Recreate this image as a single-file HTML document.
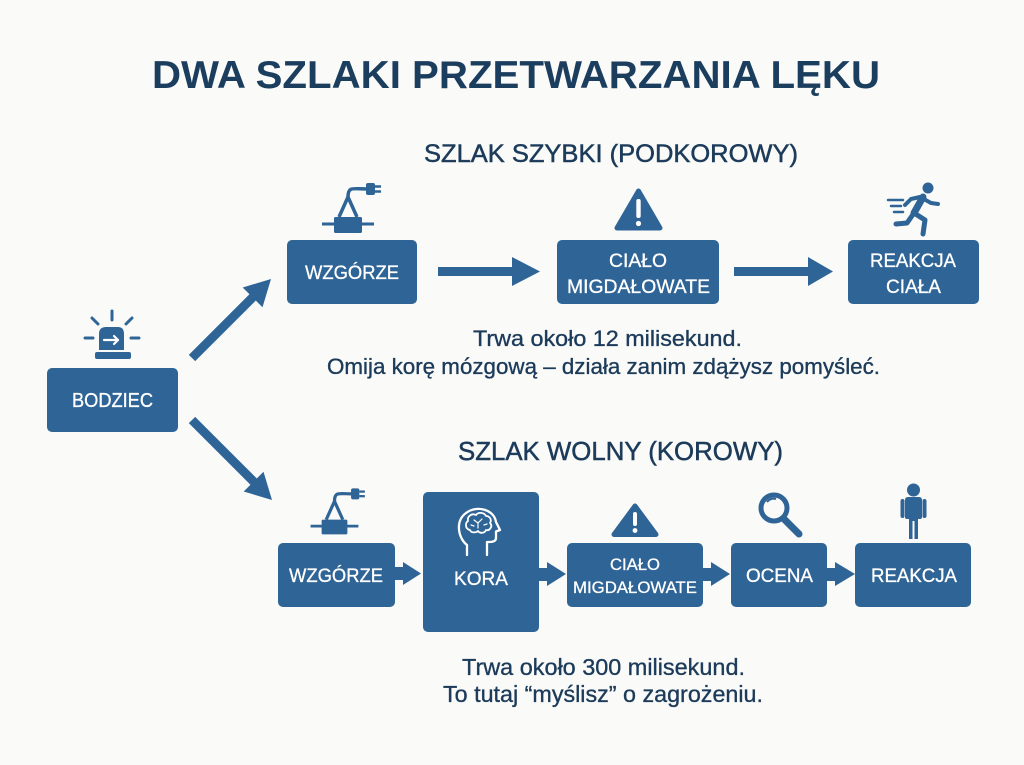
<!DOCTYPE html>
<html><head><meta charset="utf-8">
<style>
html,body{margin:0;padding:0;background:#fafaf8;}
svg{display:block;}
text{font-family:"Liberation Sans","DejaVu Sans",sans-serif;}
</style></head>
<body>
<svg width="1024" height="765" viewBox="0 0 1024 765" xmlns="http://www.w3.org/2000/svg">
<rect width="1024" height="765" fill="#fafaf8"/>

<!-- Titles -->
<text x="516" y="88" text-anchor="middle" font-size="39" font-weight="bold" fill="#1b3d5e" textLength="728" lengthAdjust="spacingAndGlyphs">DWA SZLAKI PRZETWARZANIA LĘKU</text>
<text x="611" y="162" text-anchor="middle" font-size="25" fill="#1c3b5a" stroke="#1c3b5a" stroke-width="0.5" textLength="374" lengthAdjust="spacingAndGlyphs">SZLAK SZYBKI (PODKOROWY)</text>
<text x="620.5" y="460" text-anchor="middle" font-size="26" fill="#1c3b5a" stroke="#1c3b5a" stroke-width="0.5" textLength="325" lengthAdjust="spacingAndGlyphs">SZLAK WOLNY (KOROWY)</text>

<!-- Body text -->
<g fill="#1c3b5a" stroke="#1c3b5a" stroke-width="0.35" font-size="22">
<text x="607.5" y="346" text-anchor="middle" textLength="269" lengthAdjust="spacingAndGlyphs">Trwa około 12 milisekund.</text>
<text x="603.5" y="374" text-anchor="middle" textLength="553" lengthAdjust="spacingAndGlyphs">Omija korę mózgową – działa zanim zdążysz pomyśleć.</text>
<text x="603.5" y="675" text-anchor="middle" font-size="23" textLength="283" lengthAdjust="spacingAndGlyphs">Trwa około 300 milisekund.</text>
<text x="603" y="702" text-anchor="middle" font-size="23" textLength="320" lengthAdjust="spacingAndGlyphs">To tutaj “myślisz” o zagrożeniu.</text>
</g>

<!-- Boxes -->
<g fill="#2f6496">
<rect x="47" y="368" width="131" height="64" rx="5"/>
<rect x="287" y="240" width="130" height="64" rx="5"/>
<rect x="557" y="240" width="162" height="64" rx="5"/>
<rect x="848" y="240" width="131" height="64" rx="5"/>
<rect x="278" y="543" width="117" height="64" rx="5"/>
<rect x="423" y="492" width="116" height="140" rx="5"/>
<rect x="567" y="543" width="136" height="64" rx="5"/>
<rect x="731" y="543" width="96" height="64" rx="5"/>
<rect x="855" y="543" width="116" height="64" rx="5"/>
</g>

<!-- Box labels -->
<g fill="#ffffff" stroke="#ffffff" stroke-width="0.3" font-size="19">
<text x="112.5" y="407" text-anchor="middle" font-size="20" textLength="81" lengthAdjust="spacingAndGlyphs">BODZIEC</text>
<text x="352" y="279" text-anchor="middle" textLength="94" lengthAdjust="spacingAndGlyphs">WZGÓRZE</text>
<text x="638" y="267" text-anchor="middle" textLength="58" lengthAdjust="spacingAndGlyphs">CIAŁO</text>
<text x="638.5" y="293" text-anchor="middle" textLength="143" lengthAdjust="spacingAndGlyphs">MIGDAŁOWATE</text>
<text x="913" y="267" text-anchor="middle" textLength="86" lengthAdjust="spacingAndGlyphs">REAKCJA</text>
<text x="913.5" y="293" text-anchor="middle" textLength="55" lengthAdjust="spacingAndGlyphs">CIAŁA</text>
<text x="336" y="582" text-anchor="middle" textLength="94" lengthAdjust="spacingAndGlyphs">WZGÓRZE</text>
<text x="481" y="585" text-anchor="middle" textLength="54" lengthAdjust="spacingAndGlyphs">KORA</text>
<text x="635" y="570" text-anchor="middle" font-size="17" textLength="50" lengthAdjust="spacingAndGlyphs">CIAŁO</text>
<text x="635" y="593" text-anchor="middle" font-size="17" textLength="124" lengthAdjust="spacingAndGlyphs">MIGDAŁOWATE</text>
<text x="779.5" y="582" text-anchor="middle" textLength="67" lengthAdjust="spacingAndGlyphs">OCENA</text>
<text x="914" y="582" text-anchor="middle" textLength="86" lengthAdjust="spacingAndGlyphs">REAKCJA</text>
</g>

<!-- Arrows -->
<g fill="#2f6496" stroke="none">
<rect x="438" y="267" width="76" height="9"/>
<polygon points="512,257 540,271.5 512,286"/>
<rect x="734" y="267" width="76" height="9"/>
<polygon points="808,257 833,271.5 808,286"/>
<rect x="395" y="567" width="10" height="13"/>
<polygon points="403,562 421,573.5 403,585"/>
<rect x="539" y="568" width="10" height="13"/>
<polygon points="547,562 566,574 547,586"/>
<rect x="703" y="568" width="10" height="13"/>
<polygon points="711,562 730,574 711,586"/>
<rect x="827" y="568" width="10" height="13"/>
<polygon points="835,562 855,574 835,586"/>
<polygon points="271,279 242.7,287.5 262.5,307.3"/>
<polygon points="272,500 263.5,471.7 243.7,491.5"/>
</g>
<g stroke="#2f6496" stroke-width="9" stroke-linecap="butt">
<line x1="192" y1="358" x2="256" y2="294"/>
<line x1="192" y1="420" x2="256" y2="484"/>
</g>

<!-- Siren icon -->
<g fill="#2f6496" stroke="#2f6496">
<line x1="112" y1="311" x2="112" y2="320" stroke-width="3" stroke-linecap="round"/>
<line x1="92" y1="318" x2="98" y2="324" stroke-width="3" stroke-linecap="round"/>
<line x1="132" y1="318" x2="126" y2="324" stroke-width="3" stroke-linecap="round"/>
<line x1="85" y1="338" x2="93" y2="338" stroke-width="3" stroke-linecap="round"/>
<line x1="131" y1="338" x2="139" y2="338" stroke-width="3" stroke-linecap="round"/>
<path d="M99,350 L99,334 Q99,327 106,327 L118,327 Q124,327 124,334 L124,350 Z" stroke="none"/>
<rect x="95" y="352" width="36" height="7" rx="2" stroke="none"/>
</g>
<g stroke="#ffffff" stroke-width="2.2" fill="none" stroke-linecap="round" stroke-linejoin="round">
<line x1="104" y1="340" x2="118" y2="340"/>
<polyline points="114,336 118,340 114,344"/>
</g>

<!-- Plug icons -->
<g transform="translate(348,225)">
<line x1="-26" y1="-1" x2="26" y2="-1" stroke="#2f6496" stroke-width="3"/>
<rect x="-14" y="-8" width="28" height="16" rx="1.5" fill="#2f6496"/>
<polyline points="-9,-8 0,-28 9,-8" fill="none" stroke="#2f6496" stroke-width="3.5" stroke-linejoin="round"/>
<path d="M0,-28 C0,-39 5,-36 19,-36" fill="none" stroke="#2f6496" stroke-width="3.5"/>
<rect x="18" y="-42" width="9" height="12" rx="2" fill="#2f6496"/>
<line x1="27" y1="-38.5" x2="33" y2="-38.5" stroke="#2f6496" stroke-width="2.5"/>
<line x1="27" y1="-33.5" x2="33" y2="-33.5" stroke="#2f6496" stroke-width="2.5"/>
</g>
<g transform="translate(334.5,527) scale(0.92)">
<line x1="-26" y1="-1" x2="26" y2="-1" stroke="#2f6496" stroke-width="3"/>
<rect x="-14" y="-8" width="28" height="16" rx="1.5" fill="#2f6496"/>
<polyline points="-9,-8 0,-28 9,-8" fill="none" stroke="#2f6496" stroke-width="3.5" stroke-linejoin="round"/>
<path d="M0,-28 C0,-39 5,-36 19,-36" fill="none" stroke="#2f6496" stroke-width="3.5"/>
<rect x="18" y="-42" width="9" height="12" rx="2" fill="#2f6496"/>
<line x1="27" y1="-38.5" x2="33" y2="-38.5" stroke="#2f6496" stroke-width="2.5"/>
<line x1="27" y1="-33.5" x2="33" y2="-33.5" stroke="#2f6496" stroke-width="2.5"/>
</g>

<!-- Warning triangles -->
<polygon points="638.5,191 617,228 660,228" fill="#2f6496" stroke="#2f6496" stroke-width="5" stroke-linejoin="round"/>
<rect x="636.3" y="199" width="4.4" height="19" rx="2" fill="#ffffff"/>
<circle cx="638.5" cy="223.5" r="2.6" fill="#ffffff"/>
<polygon points="635,506 614,534.5 656,534.5" fill="#2f6496" stroke="#2f6496" stroke-width="5" stroke-linejoin="round"/>
<rect x="633" y="512" width="4" height="14" rx="2" fill="#ffffff"/>
<circle cx="635" cy="530.5" r="2.4" fill="#ffffff"/>

<!-- Runner icon -->
<g stroke="#2f6496" stroke-linecap="round" stroke-linejoin="round" fill="none">
<circle cx="928" cy="188" r="5.5" fill="#2f6496" stroke="none"/>
<line x1="923" y1="197" x2="914" y2="213" stroke-width="7"/>
<polyline points="922,198 931,203 938,204" stroke-width="4"/>
<polyline points="920,197 911,199 905,205" stroke-width="4"/>
<polyline points="914,213 925,220 923,234" stroke-width="5"/>
<polyline points="914,213 907,223 896,224" stroke-width="5"/>
<line x1="888" y1="200" x2="903" y2="200" stroke-width="2.5"/>
<line x1="891" y1="206" x2="901" y2="206" stroke-width="2.5"/>
<line x1="894" y1="212" x2="903" y2="212" stroke-width="2.5"/>
</g>

<!-- Brain head icon -->
<g stroke="#ffffff" stroke-width="2.3" fill="none" stroke-linecap="round" stroke-linejoin="round">
<path d="M467,555 L467,545 C458,538 455,521 466,513 C476,505 494,509 496,522 L500,530 L496,531.5 L496,538 C496,541 493,542 490,542 L487,542 L487,555"/>
<path d="M470,530 C465,529 465,523 468,521 C467,516 472,513 476,515 C478,512 484,512 486,516 C490,516 492,520 490,523 C493,526 490,531 486,530 C485,533 480,534 478,531 C476,533 471,533 470,530 Z" stroke-width="1.8"/>
<path d="M474,520 L478,523 L482,519 M478,523 L478,528 M471,525 L474,526 M484,525 L487,524" stroke-width="1.2"/>
</g>

<!-- Magnifier -->
<circle cx="774" cy="508" r="13" fill="none" stroke="#2f6496" stroke-width="5"/>
<path d="M767,502 A8,8 0 0 1 776,499" fill="none" stroke="#2f6496" stroke-width="2"/>
<line x1="784" y1="519" x2="799" y2="534" stroke="#2f6496" stroke-width="7" stroke-linecap="round"/>

<!-- Person -->
<g fill="#2f6496">
<circle cx="913.5" cy="490" r="6.5"/>
<path d="M905,500 Q905,497 908,497 L919,497 Q922,497 922,500 L922,517 Q922,519 920,519 L918,519 L918,539 L914.5,539 L914.5,521 L912.5,521 L912.5,539 L909,539 L909,519 L907,519 Q905,519 905,517 Z"/>
<rect x="900.5" y="499" width="4" height="19" rx="2"/>
<rect x="922.5" y="499" width="4" height="19" rx="2"/>
</g>
</svg>
</body></html>
